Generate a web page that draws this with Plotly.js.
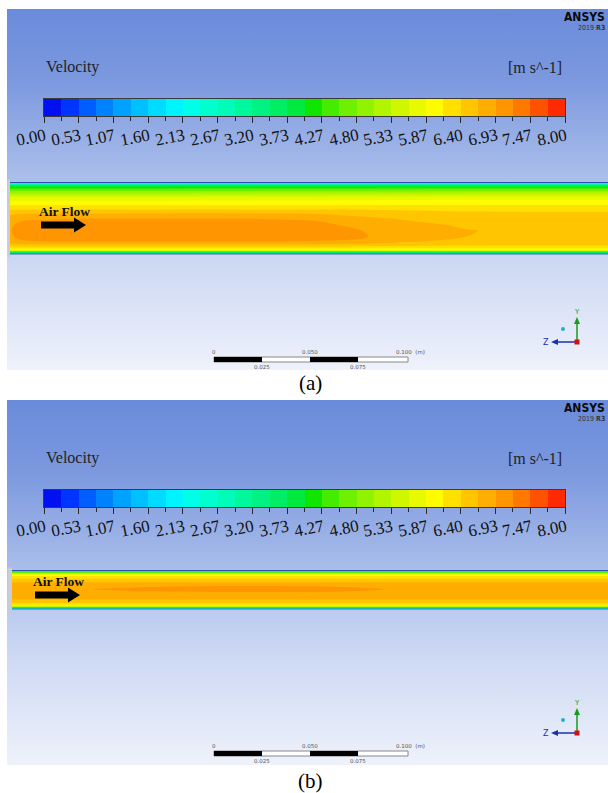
<!DOCTYPE html>
<html><head><meta charset="utf-8">
<script src="https://cdn.plot.ly/plotly-3.0.1.min.js"></script>
<style>html,body{margin:0;padding:0;background:#fff;}#chart{width:608px;height:793px;}</style>
</head><body><div id="chart"></div>
<script>
// ---------- legend (velocity colour bar, m/s) ----------
const legendMin = 0, legendMax = 8, legendBands = 30;
const tickLabels = ['0.00','0.53','1.07','1.60','2.13','2.67','3.20','3.73','4.27','4.80','5.33','5.87','6.40','6.93','7.47','8.00'];
const tickValues = [0,0.5333,1.0667,1.6,2.1333,2.6667,3.2,3.7333,4.2667,4.8,5.3333,5.8667,6.4,6.9333,7.4667,8];
const bandColors = ['#0010f0','#0035ff','#005eff','#0082ff','#00a2ff','#00c0ff','#00dcff','#00f4ff',
  '#00ffe8','#00ffcf','#00fcb6','#00f89c','#00f382','#00ee66','#00e93e','#10e500',
  '#46ec00','#6ef000','#92f300','#b2f500','#cff700','#e9f900','#fffb00','#ffe000',
  '#ffc600','#ffad00','#ff9500','#ff7800','#ff5200','#ff2a00'];

// ---------- panel (a): velocity read at stations along the duct ----------
const aStationsX = [0,5,30,80,120,160,186,210,236,270,311];          // mm from inlet
const aRowsY = [0,0.8,1.8,3,4.7,6.5,9,12,15,18,21.5,24.5,27,29.5,32,34,35.5,36.4,37]; // mm from lower wall
const aVel_x0   = [0,3.6,5.6,6.2,6.55,6.85,6.9,6.92,6.9,6.85,6.55,6.2,5.95,5.6,5.0,4.3,3.7,2.3,0];
const aVel_x5   = [0,3.6,5.6,6.2,6.6,6.9,6.98,7.0,6.98,6.9,6.6,6.2,5.95,5.6,5.0,4.3,3.7,2.3,0];
const aVel_x30  = [0,3.6,5.6,6.2,6.6,6.95,7.06,7.1,7.06,6.95,6.6,6.2,5.95,5.6,5.0,4.3,3.7,2.3,0];
const aVel_x80  = [0,3.6,5.6,6.2,6.6,6.95,7.07,7.11,7.07,6.95,6.62,6.2,5.95,5.6,5.0,4.3,3.7,2.3,0];
const aVel_x120 = [0,3.6,5.6,6.2,6.6,6.95,7.07,7.1,7.06,6.95,6.62,6.2,5.95,5.62,5.02,4.32,3.7,2.3,0];
const aVel_x160 = [0,3.6,5.6,6.2,6.6,6.92,7.03,7.04,7.0,6.9,6.6,6.2,5.96,5.64,5.04,4.34,3.7,2.3,0];
const aVel_x186 = [0,3.6,5.6,6.18,6.55,6.84,6.935,6.92,6.84,6.72,6.55,6.22,5.97,5.66,5.05,4.36,3.7,2.3,0];
const aVel_x210 = [0,3.6,5.6,6.16,6.5,6.68,6.78,6.8,6.72,6.64,6.5,6.21,5.98,5.67,5.06,4.38,3.7,2.3,0];
const aVel_x236 = [0,3.6,5.6,6.15,6.45,6.6,6.67,6.68,6.64,6.58,6.45,6.2,6.0,5.68,5.07,4.4,3.7,2.3,0];
const aVel_x270 = [0,3.6,5.6,6.15,6.42,6.55,6.6,6.62,6.6,6.55,6.42,6.2,6.0,5.7,5.1,4.4,3.7,2.3,0];
const aVel_x311 = [0,3.6,5.6,6.15,6.42,6.55,6.6,6.62,6.6,6.55,6.42,6.2,6.0,5.7,5.1,4.4,3.7,2.3,0];

// ---------- panel (b) ----------
const bStationsX = [0,35,70,120,170,200,250,310];
const bRowsY = [0,0.5,1.3,2.3,3.6,5.7,8.6,10.4,12.2,13.5,15.1,17.2,18.5,19.3,19.8,20.3];
const bVel_x0   = [0,3.5,5.4,6.15,6.5,6.75,6.86,6.88,6.84,6.72,6.55,6.2,5.6,4.5,3.0,0];
const bVel_x35  = [0,3.5,5.4,6.15,6.5,6.75,6.88,6.925,6.86,6.72,6.55,6.2,5.6,4.5,3.0,0];
const bVel_x70  = [0,3.5,5.4,6.15,6.5,6.76,6.91,6.97,6.91,6.73,6.55,6.2,5.6,4.5,3.0,0];
const bVel_x120 = [0,3.5,5.4,6.15,6.5,6.76,6.92,6.99,6.93,6.74,6.55,6.2,5.6,4.5,3.0,0];
const bVel_x170 = [0,3.5,5.4,6.15,6.5,6.76,6.91,6.98,6.91,6.73,6.55,6.2,5.6,4.5,3.0,0];
const bVel_x200 = [0,3.5,5.4,6.15,6.5,6.75,6.88,6.92,6.87,6.72,6.55,6.2,5.6,4.5,3.0,0];
const bVel_x250 = [0,3.5,5.4,6.15,6.5,6.75,6.86,6.88,6.84,6.72,6.55,6.2,5.6,4.5,3.0,0];
const bVel_x310 = [0,3.5,5.4,6.15,6.5,6.75,6.86,6.88,6.84,6.72,6.55,6.2,5.6,4.5,3.0,0];

// ---------- helpers ----------
const W = 608, H = 793;
const fx = p => p / W, fy = p => 1 - p / H;
const stepScale = [];
bandColors.forEach((c, k) => { stepScale.push([k / legendBands, c]); stepScale.push([(k + 1) / legendBands, c]); });
const bandW = (legendMax - legendMin) / legendBands;
const bandCenters = bandColors.map((c, k) => legendMin + (k + 0.5) * bandW);
function toGrid(cols) { return cols[0].map((_, r) => cols.map(col => col[r])); }

const aGrid = toGrid([aVel_x0,aVel_x5,aVel_x30,aVel_x80,aVel_x120,aVel_x160,aVel_x186,aVel_x210,aVel_x236,aVel_x270,aVel_x311]);
const bGrid = toGrid([bVel_x0,bVel_x35,bVel_x70,bVel_x120,bVel_x170,bVel_x200,bVel_x250,bVel_x310]);

const serif = 'Liberation Serif, Times New Roman, serif';
const traces = [], shapes = [], annotations = [];
const layout = {
  width: W, height: H, margin: {l:0,r:0,t:0,b:0}, paper_bgcolor:'#ffffff', plot_bgcolor:'rgba(0,0,0,0)',
  showlegend:false, dragmode:false,
  xaxis: {domain:[0,1], range:[0,W], visible:false, fixedrange:true},
  yaxis: {domain:[0,1], range:[H,0], visible:false, fixedrange:true}
};

const panels = [
  {bg:[9,370], off:0, bar:[99,116], lab:137, ch:[182.5,254], chX0:10, flowY:[211,225], flowX:37, rows:aRowsY, cols:aStationsX, grid:aGrid, xr:[0,311], sb:357, tag:'(a)', tagY:383},
  {bg:[400,765], off:391, bar:[490,507], lab:528, ch:[570.5,609], chX0:12, flowY:[581,595], flowX:31, rows:bRowsY, cols:bStationsX, grid:bGrid, xr:[0,310], sb:751, tag:'(b)', tagY:781}
];

let ax = 2;
panels.forEach((p, i) => {
  // background gradient (dark blue at top, near white at bottom)
  traces.push({type:'scatter', x:[7,W,W,7,7], y:[p.bg[0],p.bg[0],p.bg[1],p.bg[1],p.bg[0]], mode:'lines', line:{width:0},
    fill:'toself', fillcolor:'#a9bdea', hoverinfo:'skip',
    fillgradient:{type:'vertical', colorscale:[[0,'#eef2fb'],[0.3,'#cdd8f3'],[0.55,'#a8bcea'],[0.8,'#7c99df'],[1,'#6a8bdb']]}});

  // colour bar
  const cx = 'x'+ax, cy = 'y'+ax;
  layout['xaxis'+ax] = {domain:[fx(44),fx(565)], range:[legendMin,legendMax], anchor:cy, showgrid:false, zeroline:false,
    showline:true, mirror:true, linecolor:'#3a3a3a', linewidth:1, ticks:'outside', ticklen:6, tickwidth:1, tickcolor:'#2a2a2a',
    tickmode:'array', tickvals:tickValues, showticklabels:false, fixedrange:true,
    minor:{tickmode:'linear', tick0:legendMin, dtick:bandW, ticks:'outside', ticklen:4, tickcolor:'#2a2a2a', showgrid:false}};
  layout['yaxis'+ax] = {domain:[fy(p.bar[1]),fy(p.bar[0])], range:[-0.5,0.5], anchor:cx, showgrid:false, zeroline:false,
    showline:true, mirror:true, linecolor:'#3a3a3a', linewidth:1, ticks:'', showticklabels:false, fixedrange:true};
  traces.push({type:'heatmap', x:bandCenters, y:[0], z:[bandCenters], xaxis:cx, yaxis:cy, colorscale:stepScale,
    zmin:legendMin, zmax:legendMax, showscale:false, hoverinfo:'skip'});
  tickLabels.forEach((t, k) => annotations.push({xref:cx, yref:'y', x:tickValues[k], y:p.lab, xshift:-13, text:t, showarrow:false,
    textangle:-11, font:{family:serif, size:17, color:'#111'}}));
  ax++;

  // contour field
  const kx = 'x'+ax, ky = 'y'+ax;
  layout['xaxis'+ax] = {domain:[fx(p.chX0),1], range:p.xr, anchor:ky, visible:false, fixedrange:true};
  layout['yaxis'+ax] = {domain:[fy(p.ch[1]),fy(p.ch[0])], range:[0,p.rows[p.rows.length-1]], anchor:kx, visible:false, fixedrange:true};
  traces.push({type:'contour', x:p.cols, y:p.rows, z:p.grid, xaxis:kx, yaxis:ky, colorscale:stepScale, zmin:legendMin, zmax:legendMax,
    autocontour:false, contours:{start:legendMin, end:legendMax, size:bandW, coloring:'fill', showlines:false},
    line:{width:0, smoothing:1}, showscale:false, hoverinfo:'skip'});
  ax++;

  // duct walls / inlet edge
  shapes.push({type:'rect', xref:'x', yref:'y', x0:7.5, x1:p.chX0, y0:p.ch[0]-3, y1:p.ch[1]+3, fillcolor:'#c9ccd6', line:{width:0}, layer:'above'});
  shapes.push({type:'line', xref:'x', yref:'y', x0:p.chX0, x1:W, y0:p.ch[0], y1:p.ch[0], line:{color:'#2d4fb0', width:1}, layer:'above'});
  shapes.push({type:'line', xref:'x', yref:'y', x0:p.chX0, x1:W, y0:p.ch[1], y1:p.ch[1], line:{color:'#3a6fc0', width:1}, layer:'above'});

  // Air Flow label + arrow
  annotations.push({xref:'x', yref:'y', x:p.flowX, y:p.flowY[0], xanchor:'left', text:'<b>Air Flow</b>', showarrow:false,
    font:{family:serif, size:13.5, color:'#111'}});
  const ay = p.flowY[1], a0 = p.flowX + 4;
  shapes.push({type:'path', xref:'x', yref:'y', layer:'above', fillcolor:'#000', line:{width:0},
    path:`M${a0},${ay-3.5} L${a0+33},${ay-3.5} L${a0+33},${ay-7.5} L${a0+45},${ay} L${a0+33},${ay+7.5} L${a0+33},${ay+3.5} L${a0},${ay+3.5} Z`});

  // header texts
  annotations.push({xref:'x', yref:'y', x:44, y:67+p.off, xanchor:'left', text:'Velocity', showarrow:false, font:{family:serif, size:16, color:'#222'}});
  annotations.push({xref:'x', yref:'y', x:564, y:67+p.off, xanchor:'right', text:'[m s^-1]', showarrow:false, font:{family:serif, size:16, color:'#222'}});
  annotations.push({xref:'x', yref:'y', x:607, y:17+p.off, xanchor:'right', text:'<b>ANSYS</b>', showarrow:false,
    font:{family:'DejaVu Sans Condensed, DejaVu Sans, sans-serif', size:12, color:'#0a0a0a'}});
  annotations.push({xref:'x', yref:'y', x:607, y:28+p.off, xanchor:'right', text:'2019 <b>R3</b>', showarrow:false,
    font:{family:'DejaVu Sans Condensed, DejaVu Sans, sans-serif', size:7, color:'#333'}});

  // scale bar
  const s = p.sb;
  shapes.push({type:'rect', xref:'x', yref:'y', x0:214, x1:408, y0:s, y1:s+5, fillcolor:'#ffffff', line:{color:'#888', width:1}, layer:'above'});
  shapes.push({type:'rect', xref:'x', yref:'y', x0:214, x1:262, y0:s, y1:s+5, fillcolor:'#000', line:{width:0}, layer:'above'});
  shapes.push({type:'rect', xref:'x', yref:'y', x0:310, x1:358, y0:s, y1:s+5, fillcolor:'#000', line:{width:0}, layer:'above'});
  const sf = {family:'DejaVu Sans, sans-serif', size:5.5, color:'#555'};
  annotations.push({xref:'x', yref:'y', x:214, y:s-5, text:'0', showarrow:false, font:sf});
  annotations.push({xref:'x', yref:'y', x:310, y:s-5, text:'0.050', showarrow:false, font:sf});
  annotations.push({xref:'x', yref:'y', x:394, y:s-5, xanchor:'left', text:'0.100  (m)', showarrow:false, font:sf});
  annotations.push({xref:'x', yref:'y', x:262, y:s+10, text:'0.025', showarrow:false, font:sf});
  annotations.push({xref:'x', yref:'y', x:358, y:s+10, text:'0.075', showarrow:false, font:sf});

  // axis triad
  const tx = 577, ty = 342 + p.off;
  shapes.push({type:'line', xref:'x', yref:'y', x0:tx, x1:tx, y0:ty, y1:ty-20, line:{color:'#1a9a1a', width:1.5}, layer:'above'});
  shapes.push({type:'path', xref:'x', yref:'y', path:`M${tx-3},${ty-18} L${tx},${ty-25} L${tx+3},${ty-18} Z`, fillcolor:'#1a9a1a', line:{width:0}, layer:'above'});
  shapes.push({type:'line', xref:'x', yref:'y', x0:tx, x1:tx-21, y0:ty, y1:ty, line:{color:'#1c2fb0', width:1.5}, layer:'above'});
  shapes.push({type:'path', xref:'x', yref:'y', path:`M${tx-19},${ty-3} L${tx-26},${ty} L${tx-19},${ty+3} Z`, fillcolor:'#1c2fb0', line:{width:0}, layer:'above'});
  shapes.push({type:'rect', xref:'x', yref:'y', x0:tx-2.5, x1:tx+2.5, y0:ty-2.5, y1:ty+2.5, fillcolor:'#d01010', line:{width:0}, layer:'above'});
  shapes.push({type:'circle', xref:'x', yref:'y', x0:tx-16, x1:tx-12, y0:ty-15, y1:ty-11, fillcolor:'#22b0c8', line:{width:0}, layer:'above'});
  annotations.push({xref:'x', yref:'y', x:tx, y:ty-30, text:'Y', showarrow:false, font:{family:'DejaVu Sans, sans-serif', size:7, color:'#1a9a1a'}});
  annotations.push({xref:'x', yref:'y', x:tx-31, y:ty, text:'Z', showarrow:false, font:{family:'DejaVu Sans, sans-serif', size:8, color:'#1c2fb0'}});

  // panel tag
  annotations.push({xref:'x', yref:'y', x:310, y:p.tagY, text:p.tag, showarrow:false, font:{family:serif, size:21, color:'#000'}});
});

layout.shapes = shapes;
layout.annotations = annotations;
Plotly.newPlot('chart', traces, layout, {staticPlot:true, displayModeBar:false});
</script></body></html>
